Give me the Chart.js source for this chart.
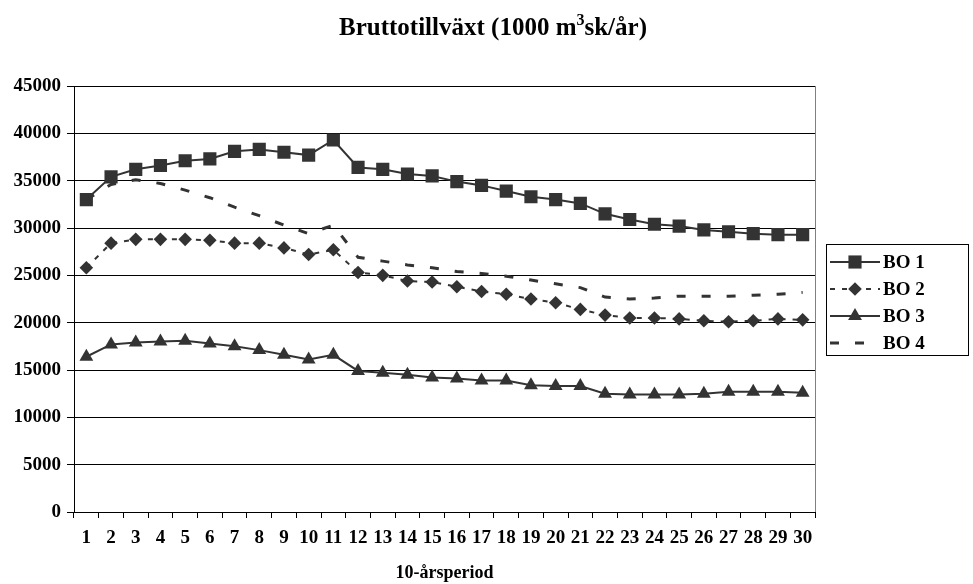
<!DOCTYPE html>
<html lang="sv">
<head>
  <meta charset="UTF-8">
  <title>Bruttotillväxt</title>
  <script src="https://cdn.jsdelivr.net/npm/chart.js@4"></script>
  <style>
    body { margin: 0; background: #fff; }
    #wrap { width: 973px; height: 584px; position: relative; }
  </style>
</head>
<body>
<div id="wrap">
  <canvas id="myChart"></canvas>
</div>

<script>
// 10-year periods 1..30
const periods = Array.from({length: 30}, (_, i) => String(i + 1));

const yTicks = [0, 5000, 10000, 15000, 20000, 25000, 30000, 35000, 40000, 45000];

const seriesNames = ['BO 1', 'BO 2', 'BO 3', 'BO 4'];

const bo1 = [33000, 35400, 36200, 36600, 37100, 37300, 38100, 38300, 38000, 37700,
             39300, 36400, 36200, 35700, 35500, 34900, 34500, 33900, 33300, 33000,
             32600, 31500, 30900, 30400, 30200, 29800, 29600, 29400, 29300, 29300];

const bo2 = [25800, 28400, 28800, 28800, 28800, 28700, 28400, 28400, 27900, 27200,
             27700, 25300, 25000, 24400, 24300, 23800, 23300, 23000, 22500, 22100,
             21400, 20800, 20500, 20500, 20400, 20200, 20100, 20200, 20400, 20300];

const bo3 = [16400, 17700, 17900, 18000, 18100, 17800, 17500, 17100, 16600, 16100,
             16600, 14900, 14700, 14500, 14200, 14100, 13900, 13900, 13400, 13300,
             13300, 12500, 12400, 12400, 12400, 12500, 12700, 12700, 12700, 12600];

const bo4 = [33000, 34600, 35100, 34700, 34000, 33200, 32200, 31300, 30300, 29400,
             30300, 26900, 26500, 26100, 25800, 25400, 25200, 24900, 24500, 24100,
             23700, 22700, 22500, 22600, 22800, 22800, 22800, 22900, 23000, 23200];

const ink = '#333333';
const serif = "'Liberation Serif', 'Times New Roman', serif";

// title with a raised "3" in m³
const titlePlugin = {
  id: 'titleSup',
  afterDraw(chart) {
    const ctx = chart.ctx;
    const parts = [['Bruttotillväxt (1000 m', 25, 0], ['3', 16, -10], ['sk/år)', 25, 0]];
    ctx.save();
    ctx.fillStyle = '#000';
    ctx.textBaseline = 'alphabetic';
    let total = 0;
    parts.forEach(p => {
      ctx.font = `bold ${p[1]}px ${serif}`;
      total += ctx.measureText(p[0]).width;
    });
    let x = 493 - total / 2;
    parts.forEach(p => {
      ctx.font = `bold ${p[1]}px ${serif}`;
      ctx.fillText(p[0], x, 35 + p[2]);
      x += ctx.measureText(p[0]).width;
    });
    ctx.restore();
  }
};

// boxed legend on the right, line sample with the marker in the middle
const legendPlugin = {
  id: 'boxLegend',
  afterDraw(chart) {
    const ctx = chart.ctx;
    ctx.save();
    ctx.strokeStyle = '#000';
    ctx.lineWidth = 1;
    ctx.strokeRect(826.5, 244.5, 142, 111);
    chart.data.datasets.forEach((ds, i) => {
      const y = 262 + i * 27;
      ctx.strokeStyle = ds.borderColor;
      ctx.lineWidth = ds.borderWidth;
      ctx.setLineDash(ds.borderDash || []);
      ctx.beginPath();
      ctx.moveTo(830, y);
      ctx.lineTo(880, y);
      ctx.stroke();
      ctx.setLineDash([]);
      if (ds.pointRadius > 0) {
        ctx.fillStyle = ds.pointBackgroundColor;
        ctx.beginPath();
        Chart.helpers.drawPoint(ctx, {pointStyle: ds.pointStyle, rotation: 0, borderWidth: 0, radius: ds.pointRadius}, 855, y);
      }
      ctx.fillStyle = '#000';
      ctx.font = `bold 19px ${serif}`;
      ctx.textBaseline = 'middle';
      ctx.fillText(ds.label, 883, y + 1);
    });
    ctx.restore();
  }
};

// right edge of the plot frame
const framePlugin = {
  id: 'frame',
  beforeDatasetsDraw(chart) {
    const a = chart.chartArea;
    const ctx = chart.ctx;
    ctx.save();
    ctx.strokeStyle = '#808080';
    ctx.lineWidth = 1;
    ctx.beginPath();
    ctx.moveTo(Math.round(a.right) + 0.5, a.top);
    ctx.lineTo(Math.round(a.right) + 0.5, a.bottom);
    ctx.stroke();
    ctx.restore();
  }
};

function series(label, data, style, radius, dash, width) {
  return {
    label: label,
    data: data,
    borderColor: ink,
    backgroundColor: ink,
    pointBackgroundColor: ink,
    pointBorderColor: ink,
    pointBorderWidth: 0,
    borderWidth: width,
    borderDash: dash,
    pointStyle: style,
    pointRadius: radius,
    pointHoverRadius: radius,
    tension: 0,
    fill: false
  };
}

const datasets = [
  series(seriesNames[0], bo1, 'rect', 9.3, [], 2),
  series(seriesNames[1], bo2, 'rectRot', 6.8, [5, 7], 2),
  series(seriesNames[2], bo3, 'triangle', 8, [], 2),
  series(seriesNames[3], bo4, 'circle', 0, [9, 16], 3)
];

const tickFont = { family: serif, size: 19, weight: 'bold' };

new Chart(document.getElementById('myChart'), {
  type: 'line',
  data: { labels: periods, datasets: datasets },
  options: {
    responsive: true,
    maintainAspectRatio: false,
    animation: false,
    layout: { padding: { top: 86, right: 158, left: 0, bottom: 0 } },
    plugins: {
      legend: { display: false },
      title: { display: false },
      tooltip: { enabled: false }
    },
    scales: {
      x: {
        offset: true,
        afterFit: s => { s.height = 72; },
        grid: { offset: true, drawOnChartArea: false, drawTicks: true, tickLength: 6, color: '#000' },
        border: { color: '#000', width: 1 },
        ticks: { color: '#000', font: tickFont, maxRotation: 0, autoSkip: false, padding: 9 },
        title: { display: true, text: '10-årsperiod', color: '#000', font: { family: serif, size: 18, weight: 'bold' }, padding: { top: 6, bottom: 0 } }
      },
      y: {
        min: 0,
        max: 45000,
        afterFit: s => { s.width = 74; },
        afterBuildTicks: s => { s.ticks = yTicks.map(v => ({ value: v })); },
        grid: { color: '#000', tickLength: 7, drawTicks: true },
        border: { color: '#000', width: 1 },
        ticks: { color: '#000', font: tickFont, padding: 6, callback: v => String(v) }
      }
    }
  },
  plugins: [framePlugin, titlePlugin, legendPlugin]
});
</script>
</body>
</html>
